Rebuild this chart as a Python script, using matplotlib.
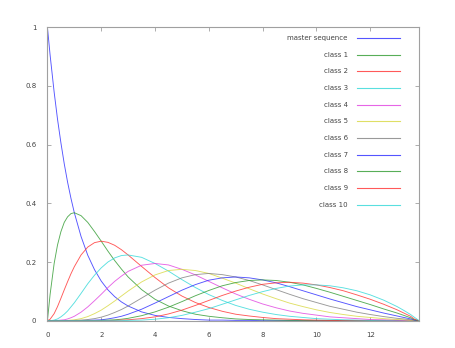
import matplotlib
matplotlib.use("Agg")
import matplotlib.pyplot as plt

# mutation rate (x axis) samples
x = [0, 0.1, 0.25, 0.375, 0.5, 0.625, 0.75, 0.875, 1, 1.25, 1.5, 1.75, 2,
     2.25, 2.5, 2.75, 3, 3.5, 4, 4.5, 5, 5.5, 6, 6.5, 7, 7.5, 8, 8.5, 9, 9.5,
     10, 10.5, 11, 11.5, 12, 12.5, 13, 13.25, 13.5, 13.65, 13.8155]

master = [1.0, 0.905, 0.779, 0.687, 0.607, 0.535, 0.472, 0.417, 0.368, 0.287,
          0.223, 0.174, 0.135, 0.105, 0.082, 0.064, 0.050, 0.030, 0.018, 0.011,
          0.007, 0.004, 0.002, 0.002, 0.001, 0.001, 0, 0, 0, 0,
          0, 0, 0, 0, 0, 0, 0, 0, 0, 0, 0]
class1 = [0, 0.090, 0.195, 0.258, 0.303, 0.335, 0.354, 0.365, 0.368, 0.358,
          0.335, 0.304, 0.271, 0.237, 0.205, 0.176, 0.149, 0.106, 0.073, 0.050,
          0.034, 0.022, 0.015, 0.010, 0.006, 0.004, 0.003, 0.002, 0.001, 0.001,
          0, 0, 0, 0, 0, 0, 0, 0, 0, 0, 0]
class2 = [0, 0.005, 0.024, 0.048, 0.076, 0.105, 0.133, 0.160, 0.184, 0.224,
          0.251, 0.266, 0.271, 0.267, 0.257, 0.242, 0.224, 0.185, 0.147, 0.112,
          0.084, 0.062, 0.045, 0.032, 0.022, 0.016, 0.011, 0.007, 0.005, 0.003,
          0.002, 0.001, 0.001, 0.001, 0, 0, 0, 0, 0, 0, 0]
class3 = [0, 0, 0.002, 0.006, 0.013, 0.022, 0.033, 0.047, 0.061, 0.093,
          0.126, 0.155, 0.180, 0.200, 0.214, 0.222, 0.224, 0.216, 0.195, 0.169,
          0.140, 0.113, 0.089, 0.069, 0.052, 0.039, 0.029, 0.021, 0.015, 0.011,
          0.007, 0.005, 0.003, 0.002, 0.001, 0.001, 0, 0, 0, 0, 0]
class4 = [0, 0, 0, 0.001, 0.002, 0.003, 0.006, 0.010, 0.015, 0.029,
          0.047, 0.068, 0.090, 0.113, 0.134, 0.152, 0.168, 0.189, 0.195, 0.190,
          0.175, 0.156, 0.134, 0.112, 0.091, 0.073, 0.057, 0.044, 0.033, 0.025,
          0.019, 0.013, 0.010, 0.007, 0.004, 0.003, 0.002, 0.001, 0.001, 0, 0]
class5 = [0, 0, 0, 0, 0, 0, 0.001, 0.002, 0.003, 0.007,
          0.014, 0.024, 0.036, 0.051, 0.067, 0.084, 0.101, 0.132, 0.156, 0.171,
          0.175, 0.171, 0.161, 0.145, 0.128, 0.109, 0.091, 0.075, 0.060, 0.048,
          0.037, 0.028, 0.021, 0.015, 0.011, 0.007, 0.004, 0.003, 0.001, 0.001,
          0]
class6 = [0, 0, 0, 0, 0, 0, 0, 0, 0.001, 0.002,
          0.004, 0.007, 0.012, 0.019, 0.028, 0.038, 0.050, 0.077, 0.104, 0.128,
          0.146, 0.157, 0.161, 0.157, 0.149, 0.137, 0.122, 0.106, 0.090, 0.075,
          0.062, 0.049, 0.039, 0.029, 0.021, 0.014, 0.008, 0.006, 0.003, 0.001,
          0]
class7 = [0, 0, 0, 0, 0, 0, 0, 0, 0, 0,
          0.001, 0.002, 0.003, 0.006, 0.010, 0.015, 0.022, 0.039, 0.060, 0.082,
          0.104, 0.123, 0.138, 0.146, 0.149, 0.146, 0.139, 0.129, 0.116, 0.102,
          0.088, 0.074, 0.061, 0.048, 0.037, 0.026, 0.016, 0.011, 0.006, 0.002,
          0]
class8 = [0, 0, 0, 0, 0, 0, 0, 0, 0, 0,
          0, 0, 0.001, 0.002, 0.003, 0.005, 0.008, 0.017, 0.030, 0.046,
          0.065, 0.085, 0.103, 0.119, 0.130, 0.137, 0.139, 0.137, 0.131, 0.122,
          0.110, 0.097, 0.083, 0.069, 0.055, 0.040, 0.026, 0.018, 0.010, 0.003,
          0]
class9 = [0, 0, 0, 0, 0, 0, 0, 0, 0, 0,
          0, 0, 0, 0, 0.001, 0.002, 0.003, 0.007, 0.013, 0.023,
          0.036, 0.052, 0.069, 0.086, 0.101, 0.114, 0.124, 0.129, 0.131, 0.128,
          0.122, 0.113, 0.102, 0.088, 0.073, 0.056, 0.037, 0.026, 0.015, 0.005,
          0]
class10 = [0, 0, 0, 0, 0, 0, 0, 0, 0, 0,
           0, 0, 0, 0, 0, 0, 0.001, 0.002, 0.005, 0.010,
           0.018, 0.029, 0.041, 0.056, 0.071, 0.086, 0.099, 0.110, 0.118, 0.122,
           0.122, 0.119, 0.112, 0.102, 0.088, 0.070, 0.048, 0.035, 0.021, 0.011,
           0]

series = [master, class1, class2, class3, class4, class5, class6, class7,
          class8, class9, class10]
labels = ["master sequence"] + [f"class {k}" for k in range(1, 11)]
colors = ["#2a2aff", "#2e9a2e", "#ff3030", "#30d8d8", "#e040e0", "#d8d840",
          "#808080", "#2a2aff", "#2e9a2e", "#ff3030", "#30d8d8"]

fig = plt.figure(figsize=(4.56, 3.48), dpi=100)
ax = fig.add_axes([0.104, 0.0785, 0.815, 0.843])

for ys, c in zip(series, colors):
    ax.plot(x, ys, color=c, lw=0.65, alpha=0.8)

ax.set_xlim(0, 13.8155)
ax.set_ylim(0, 1)
ax.set_xticks([0, 2, 4, 6, 8, 10, 12])
ax.set_xticklabels(["0", "2", "4", "6", "8", "10", "12"])
ax.set_yticks([0, 0.2, 0.4, 0.6, 0.8, 1])
ax.set_yticklabels(["0", "0.2", "0.4", "0.6", "0.8", "1"])
ax.tick_params(direction="in", length=3, width=0.6, color="#a0a0a0",
               labelsize=5, labelcolor="#444444", top=True, right=True,
               pad=8)
for sp in ax.spines.values():
    sp.set_color("#a0a0a0")
    sp.set_linewidth(0.8)

# hand-drawn key, top right inside the plot
for i, (lab, c) in enumerate(zip(labels, colors)):
    yk = 0.963 - i * 0.0568
    ax.text(0.808, yk, lab, transform=ax.transAxes, ha="right", va="center",
            fontsize=5, color="#444444")
    ax.plot([0.834, 0.949], [yk, yk], transform=ax.transAxes, color=c,
            lw=0.8, alpha=0.8)

fig.savefig("out.png", dpi=100)
